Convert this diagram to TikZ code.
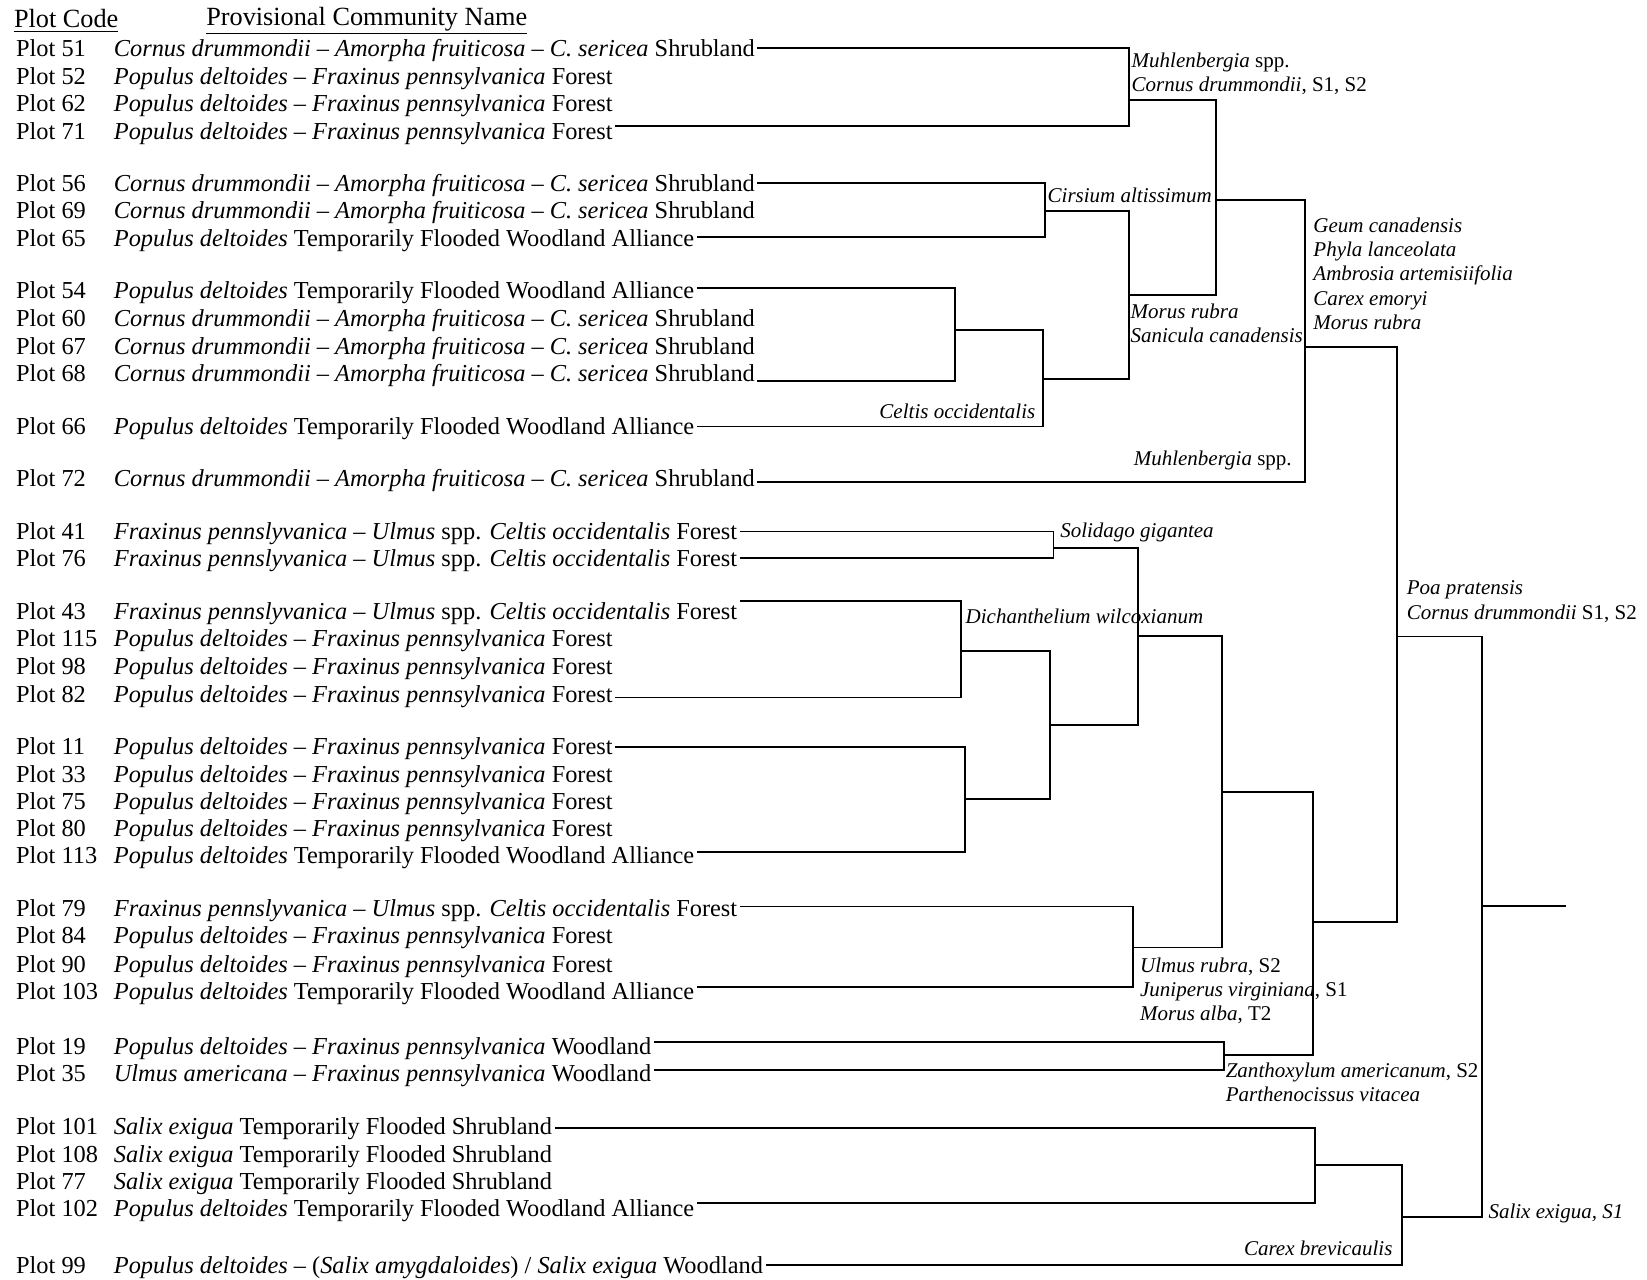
\documentclass[tikz,border=0pt]{standalone}
\usepackage{fontspec}
\setmainfont{Liberation Serif}
\newcommand{\lf}{\fontsize{11.6}{13}\selectfont}
\newcommand{\lbf}{\fontsize{10}{12}\selectfont}
\newcommand{\hf}{\fontsize{12.5}{14}\selectfont}
\newcommand{\plotlab}[1]{\makebox[46.5pt][l]{Plot #1}}
\newcommand{\CDA}{\textit{Cornus drummondii} – \textit{Amorpha fruiticosa} – \textit{C. sericea} Shrubland}
\newcommand{\PDF}{\textit{Populus deltoides} – \textit{Fraxinus pennsylvanica} Forest}
\newcommand{\PDT}{\textit{Populus deltoides} Temporarily Flooded Woodland Alliance}
\newcommand{\FPU}{\textit{Fraxinus pennslyvanica} – \textit{Ulmus} spp. \textit{Celtis occidentalis} Forest}
\newcommand{\SET}{\textit{Salix exigua} Temporarily Flooded Shrubland}
\begin{document}
\begin{tikzpicture}[x=0.5pt,y=-0.5pt,
  leaf/.style={anchor=west, inner xsep=1pt, inner ysep=0pt, font=\lf, text height=8pt, text depth=2.5pt, yshift=-1pt},
  lbl/.style={anchor=west, inner sep=0pt, font=\lbf, text height=7pt, text depth=2pt, yshift=-0.5pt},
  hdr/.style={anchor=west, inner sep=0pt, font=\hf},
  link/.style={line width=0.9pt, line join=miter}]
\useasboundingbox[fill=white] (0,0) rectangle (1568,1218);
% header
\node[hdr] (h1) at (13,20) {\underline{Plot Code}};
\node[hdr] (h2) at (196,20) {\underline{Provisional Community Name}};
% leaves
\node[leaf] (p51) at (13,46) {\plotlab{51}\CDA};
\node[leaf] (p52) at (13,73) {\plotlab{52}\PDF};
\node[leaf] (p62) at (13,99) {\plotlab{62}\PDF};
\node[leaf] (p71) at (13,125) {\plotlab{71}\PDF};
\node[leaf] (p56) at (13,175) {\plotlab{56}\CDA};
\node[leaf] (p69) at (13,201) {\plotlab{69}\CDA};
\node[leaf] (p65) at (13,227) {\plotlab{65}\PDT};
\node[leaf] (p54) at (13,277) {\plotlab{54}\PDT};
\node[leaf] (p60) at (13,303) {\plotlab{60}\CDA};
\node[leaf] (p67) at (13,330) {\plotlab{67}\CDA};
\node[leaf] (p68) at (13,356) {\plotlab{68}\CDA};
\node[leaf] (p66) at (13,406) {\plotlab{66}\PDT};
\node[leaf] (p72) at (13,456) {\plotlab{72}\CDA};
\node[leaf] (p41) at (13,506) {\plotlab{41}\FPU};
\node[leaf] (p76) at (13,532) {\plotlab{76}\FPU};
\node[leaf] (p43) at (13,582) {\plotlab{43}\FPU};
\node[leaf] (p115) at (13,608) {\plotlab{115}\PDF};
\node[leaf] (p98) at (13,635) {\plotlab{98}\PDF};
\node[leaf] (p82) at (13,661) {\plotlab{82}\PDF};
\node[leaf] (p11) at (13,711) {\plotlab{11}\PDF};
\node[leaf] (p33) at (13,737) {\plotlab{33}\PDF};
\node[leaf] (p75) at (13,763) {\plotlab{75}\PDF};
\node[leaf] (p80) at (13,789) {\plotlab{80}\PDF};
\node[leaf] (p113) at (13,815) {\plotlab{113}\PDT};
\node[leaf] (p79) at (13,865) {\plotlab{79}\FPU};
\node[leaf] (p84) at (13,891) {\plotlab{84}\PDF};
\node[leaf] (p90) at (13,918) {\plotlab{90}\PDF};
\node[leaf] (p103) at (13,944) {\plotlab{103}\PDT};
\node[leaf] (p19) at (13,996) {\plotlab{19}\textit{Populus deltoides} – \textit{Fraxinus pennsylvanica} Woodland};
\node[leaf] (p35) at (13,1022) {\plotlab{35}\textit{Ulmus americana} – \textit{Fraxinus pennsylvanica} Woodland};
\node[leaf] (p101) at (13,1073) {\plotlab{101}\SET};
\node[leaf] (p108) at (13,1099) {\plotlab{108}\SET};
\node[leaf] (p77) at (13,1125) {\plotlab{77}\SET};
\node[leaf] (p102) at (13,1151) {\plotlab{102}\PDT};
\node[leaf] (p99) at (13,1205) {\plotlab{99}\textit{Populus deltoides} – (\textit{Salix amygdaloides}) / \textit{Salix exigua} Woodland};
% line heights of the leaves
\coordinate (y51) at (0,45.5);
\coordinate (y71) at (0,120);
\coordinate (y56) at (0,174.5);
\coordinate (y65) at (0,226);
\coordinate (y54) at (0,274);
\coordinate (y68) at (0,363);
\coordinate (y66) at (0,406);
\coordinate (y72) at (0,459);
\coordinate (y41) at (0,506);
\coordinate (y76) at (0,531);
\coordinate (y43) at (0,572);
\coordinate (y82) at (0,664);
\coordinate (y11) at (0,711);
\coordinate (y113) at (0,811);
\coordinate (y79) at (0,863);
\coordinate (y103) at (0,940);
\coordinate (y19) at (0,992);
\coordinate (y35) at (0,1019);
\coordinate (y101) at (0,1074);
\coordinate (y102) at (0,1145);
\coordinate (y99) at (0,1204);
% merge points
\coordinate (m1) at (1075,95);
\coordinate (m2) at (995,201);
\coordinate (m3) at (909,314);
\coordinate (m4) at (993,361);
\coordinate (m5) at (1075,281);
\coordinate (m6) at (1158,190);
\coordinate (m7) at (1242,330);
\coordinate (m8) at (1003,522);
\coordinate (m9) at (915,619.5);
\coordinate (m10) at (919,761);
\coordinate (m11) at (1000,690);
\coordinate (m12) at (1083,605.5);
\coordinate (m13) at (1079,902);
\coordinate (m14) at (1163,753.7);
\coordinate (m15) at (1165,1004.4);
\coordinate (m16) at (1250,878);
\coordinate (m17) at (1330,606);
\coordinate (m18) at (1251.6,1109);
\coordinate (m19) at (1334.5,1158.3);
\coordinate (m20) at (1411,862.6);
\coordinate (root) at (1491,862.6);
% connectors
\draw[link] (p51.east |- y51) -| (m1) |- (p71.east |- y71);
\draw[link] (p56.east |- y56) -| (m2) |- (p65.east |- y65);
\draw[link] (p54.east |- y54) -| (m3) |- (p68.east |- y68);
\draw[link] (m3) -| (m4) |- (p66.east |- y66);
\draw[link] (m2) -| (m5) |- (m4);
\draw[link] (m1) -| (m6) |- (m5);
\draw[link] (m6) -| (m7) |- (p72.east |- y72);
\draw[link] (p41.east |- y41) -| (m8) |- (p76.east |- y76);
\draw[link] (p43.east |- y43) -| (m9) |- (p82.east |- y82);
\draw[link] (p11.east |- y11) -| (m10) |- (p113.east |- y113);
\draw[link] (m9) -| (m11) |- (m10);
\draw[link] (m8) -| (m12) |- (m11);
\draw[link] (p79.east |- y79) -| (m13) |- (p103.east |- y103);
\draw[link] (m12) -| (m14) |- (m13);
\draw[link] (p19.east |- y19) -| (m15) |- (p35.east |- y35);
\draw[link] (m14) -| (m16) |- (m15);
\draw[link] (m7) -| (m17) |- (m16);
\draw[link] (p101.east |- y101) -| (m18) |- (p102.east |- y102);
\draw[link] (m18) -| (m19) |- (p99.east |- y99);
\draw[link] (m17) -| (m20) |- (m19);
\draw[link] (m20) -- (root);
% cluster labels
\node[lbl] (t1) at (1077,58) {\textit{Muhlenbergia} spp.};
\node[lbl] (t2) at (1077,81) {\textit{Cornus drummondii}, S1, S2};
\node[lbl] (t3) at (997,187) {\textit{Cirsium altissimum}};
\node[lbl] (t4) at (1076,297) {\textit{Morus rubra}};
\node[lbl] (t5) at (1076,320.5) {\textit{Sanicula canadensis}};
\node[lbl, anchor=east] (t6) at (986,392) {\textit{Celtis occidentalis}};
\node[lbl] (t7) at (1079,437) {\textit{Muhlenbergia} spp.};
\node[lbl] (t8) at (1250,215) {\textit{Geum canadensis}};
\node[lbl] (t9) at (1250,238) {\textit{Phyla lanceolata}};
\node[lbl] (t10) at (1250,261) {\textit{Ambrosia artemisiifolia}};
\node[lbl] (t11) at (1250,285) {\textit{Carex emoryi}};
\node[lbl] (t12) at (1250,308) {\textit{Morus rubra}};
\node[lbl] (t13) at (1009,506) {\textit{Solidago gigantea}};
\node[lbl] (t14) at (919,587.6) {\textit{Dichanthelium wilcoxianum}};
\node[lbl] (t15) at (1339,560) {\textit{Poa pratensis}};
\node[lbl] (t16) at (1339,584) {\textit{Cornus drummondii} S1, S2};
\node[lbl] (t17) at (1085,919.6) {\textit{Ulmus rubra}, S2};
\node[lbl] (t18) at (1085,942.5) {\textit{Juniperus virginiana}, S1};
\node[lbl] (t19) at (1085,966) {\textit{Morus alba}, T2};
\node[lbl] (t20) at (1166.6,1020) {\textit{Zanthoxylum americanum}, S2};
\node[lbl] (t21) at (1166.6,1043) {\textit{Parthenocissus vitacea}};
\node[lbl] (t22) at (1416.7,1153.6) {\textit{Salix exigua, S1}};
\node[lbl, anchor=east] (t23) at (1326,1189) {\textit{Carex brevicaulis}};
\end{tikzpicture}
\end{document}
